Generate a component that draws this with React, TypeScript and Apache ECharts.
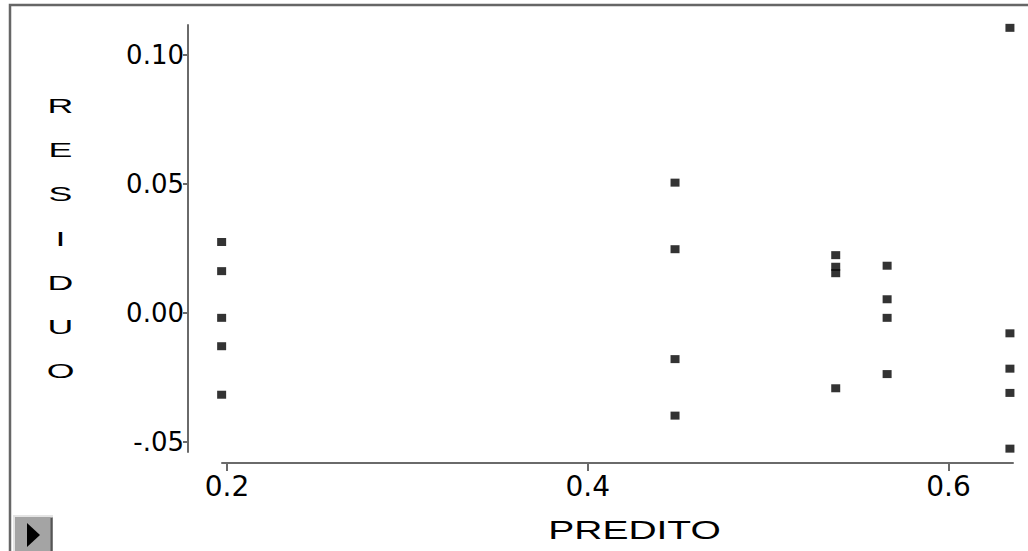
import React, { useEffect, useRef } from "react";
import * as echarts from "echarts";

const xTicks = [0.2, 0.4, 0.6];
const xTickLabels = ["0.2", "0.4", "0.6"];
const yTicks = [-0.05, 0, 0.05, 0.1];
const yTickLabels = ["-.05", "0.00", "0.05", "0.10"];

const predito = [
  0.197, 0.197, 0.197, 0.197, 0.197,
  0.4484, 0.4484, 0.4484, 0.4484,
  0.5375, 0.5375, 0.5375, 0.5375,
  0.566, 0.566, 0.566, 0.566,
  0.6341, 0.6341, 0.6341, 0.6341, 0.6341,
];
const residuo = [
  0.0275, 0.0162, -0.0019, -0.0129, -0.0317,
  0.0505, 0.0247, -0.0179, -0.0398,
  0.0224, 0.0179, 0.0154, -0.0292,
  0.0183, 0.0053, -0.0019, -0.0237,
  0.1105, -0.0079, -0.0216, -0.031, -0.0526,
];

const xTitle = "PREDITO";
const yTitle = "RESIDUO";

export default function App() {
  const ref = useRef<HTMLDivElement>(null);
  useEffect(() => {
    if (!ref.current) return;
    const chart = echarts.init(ref.current, null, { renderer: "svg" });
    const axisColor = "#6a6a6a";
    const pts = predito.map((x, i) => [x, residuo[i]]);
    chart.setOption({
      animation: false,
      backgroundColor: "#ffffff",
      grid: { left: 222, right: 15, top: 25, bottom: 99, containLabel: false },
      xAxis: {
        type: "value",
        min: 0.1972,
        max: 0.6358,
        offset: 11,
        splitLine: { show: false },
        axisLine: { show: true, onZero: false, lineStyle: { color: axisColor, width: 2 } },
        axisTick: {
          show: true,
          length: 8,
          customValues: xTicks,
          lineStyle: { color: axisColor, width: 2 },
        },
        axisLabel: {
          customValues: xTicks,
          margin: 9,
          fontFamily: "DejaVu Sans",
          fontSize: 28,
          color: "#000",
          formatter: (v: number) => {
            const i = xTicks.findIndex((t) => Math.abs(t - v) < 1e-9);
            return i >= 0 ? xTickLabels[i] : "";
          },
        },
      },
      yAxis: {
        type: "value",
        min: -0.0539,
        max: 0.1116,
        offset: 34,
        splitLine: { show: false },
        axisLine: { show: true, onZero: false, lineStyle: { color: axisColor, width: 2 } },
        axisTick: {
          show: true,
          length: 5,
          customValues: yTicks,
          lineStyle: { color: axisColor, width: 2 },
        },
        axisLabel: {
          customValues: yTicks,
          margin: 4,
          fontFamily: "DejaVu Sans",
          fontSize: 26,
          color: "#000",
          formatter: (v: number) => {
            const i = yTicks.findIndex((t) => Math.abs(t - v) < 1e-9);
            return i >= 0 ? yTickLabels[i] : "";
          },
        },
      },
      series: [
        {
          type: "scatter",
          data: pts,
          symbol: "rect",
          symbolSize: [9, 8],
          clip: false,
          itemStyle: { color: "#000" },
        },
      ],
      graphic: [
        {
          type: "polyline",
          shape: { points: [[10, 551], [10, 5], [1028, 5]] },
          style: { stroke: "#666", lineWidth: 2.5, fill: null },
          silent: true,
        },
        {
          type: "text",
          x: 60.5,
          y: 83,
          scaleX: 1.7,
          style: {
            text: yTitle.split("").join("\n"),
            fontFamily: "Liberation Sans",
            fontSize: 21,
            lineHeight: 44.3,
            fill: "#000",
            align: "center",
            verticalAlign: "top",
            textAlign: "center",
            textVerticalAlign: "top",
          },
        },
        {
          type: "text",
          x: 634.5,
          y: 530,
          scaleX: 1.5,
          style: {
            text: xTitle,
            fontFamily: "Liberation Sans",
            fontSize: 26,
            fill: "#000",
            align: "center",
            verticalAlign: "middle",
            textAlign: "center",
            textVerticalAlign: "middle",
          },
        },
        {
          type: "group",
          children: [
            { type: "rect", shape: { x: 13, y: 515, width: 40, height: 36 }, style: { fill: "#a4a4a4" } },
            { type: "polyline", shape: { points: [[14, 551], [14, 516], [53, 516]] }, style: { stroke: "#e4e4e4", lineWidth: 2, fill: null } },
            { type: "line", shape: { x1: 51.5, y1: 518, x2: 51.5, y2: 551 }, style: { stroke: "#555", lineWidth: 2 } },
            { type: "polygon", shape: { points: [[27, 523], [40, 535], [27, 547]] }, style: { fill: "#000" } },
          ],
        },
      ],
    });
    return () => chart.dispose();
  }, []);
  return (
    <div
      ref={ref}
      style={{ position: "fixed", left: 0, top: 0, width: 1028, height: 551 }}
    />
  );
}
